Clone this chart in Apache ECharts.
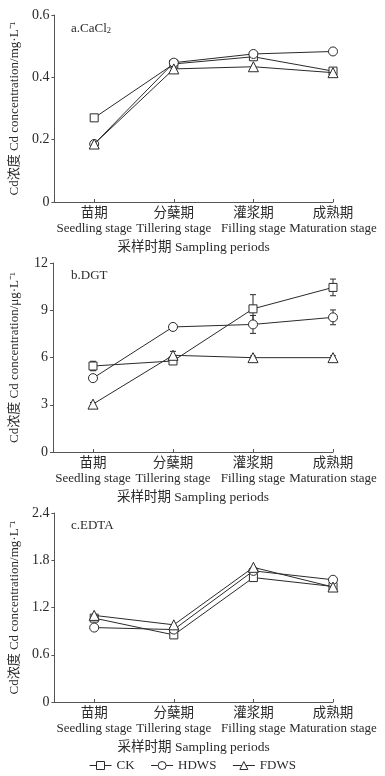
<!DOCTYPE html>
<html>
<head>
<meta charset="utf-8">
<script src="https://cdn.jsdelivr.net/npm/echarts@6/dist/echarts.min.js"></script>
<style>
html,body{margin:0;padding:0;background:#fff;}
#chart{width:385px;height:776px;}
</style>
</head>
<body>
<div id="chart"></div>
<script>
// ---- data ----
const categoriesZh = ['苗期', '分蘖期', '灌浆期', '成熟期'];
const categoriesEn = ['Seedling stage', 'Tillering stage', 'Filling stage', 'Maturation stage'];
const seriesNames = ['CK', 'HDWS', 'FDWS'];

// a. CaCl2 (mg/L)
const caclCK   = [0.270, 0.443, 0.466, 0.420];
const caclHDWS = [0.186, 0.447, 0.475, 0.483];
const caclFDWS = [0.186, 0.427, 0.434, 0.415];

// b. DGT (μg/L)
const dgtCK      = [5.46, 5.78, 9.09, 10.45];
const dgtCKErr   = [0.30, 0.15, 0.90, 0.53];
const dgtHDWS    = [4.69, 7.94, 8.10, 8.55];
const dgtHDWSErr = [0.15, 0.20, 0.57, 0.47];
const dgtFDWS    = [3.04, 6.14, 5.99, 5.99];
const dgtFDWSErr = [0.10, 0.25, 0.10, 0.12];

// c. EDTA (mg/L)
const edtaCK   = [1.065, 0.852, 1.580, 1.467];
const edtaHDWS = [0.945, 0.920, 1.665, 1.552];
const edtaFDWS = [1.100, 0.980, 1.710, 1.460];

// y-axis ticks
const yTicksA = {min: 0, max: 0.6, interval: 0.2};
const yTicksB = {min: 0, max: 12, interval: 3};
const yTicksC = {min: 0, max: 2.4, interval: 0.6};

// ---- chart ----
const SERIF = '"Liberation Serif", "Noto Sans CJK SC", serif';
const INK = '#2a2a2a';
const AXIS = '#555';
const symbols = ['rect', 'circle', 'triangle'];
const symbolSizes = [8, 9, 10];
const catPos = categoriesZh.map((_, i) => i + 1);

function toPairs(arr) { return arr.map((v, i) => [catPos[i], v]); }
function toErr(arr, err) { return arr.map((v, i) => [catPos[i], v, err[i]]); }

const grids = [
  {left: 53, top: 15, width: 280, height: 187},
  {left: 53, top: 263, width: 280, height: 189},
  {left: 53, top: 513, width: 280, height: 189}
];

function xAxisFor(gi) {
  return {
    type: 'value', gridIndex: gi, min: 0.5, max: 4,
    name: '采样时期 Sampling periods', nameLocation: 'middle', nameGap: 39,
    nameTextStyle: {fontFamily: SERIF, fontSize: 13.5, color: INK},
    axisLine: {lineStyle: {color: AXIS, width: 1}},
    axisTick: {inside: true, length: 3, customValues: catPos, lineStyle: {color: AXIS}},
    splitLine: {show: false},
    axisLabel: {
      customValues: catPos, margin: 4,
      formatter: function (v) {
        const i = Math.round(v) - 1;
        return '{zh|' + categoriesZh[i] + '}\n{en|' + categoriesEn[i] + '}';
      },
      rich: {
        zh: {fontFamily: SERIF, fontSize: 13.5, color: INK, lineHeight: 15},
        en: {fontFamily: SERIF, fontSize: 13, color: INK, lineHeight: 15}
      }
    }
  };
}
function yAxisFor(gi, t, unit) {
  return {
    type: 'value', gridIndex: gi, min: t.min, max: t.max, interval: t.interval,
    name: 'Cd浓度 Cd concentration/' + unit + '·L⁻¹', nameLocation: 'middle', nameGap: 32, nameRotate: 90,
    nameTextStyle: {fontFamily: SERIF, fontSize: 13, color: INK},
    axisLine: {show: true, lineStyle: {color: AXIS, width: 1}},
    axisTick: {show: true, length: 3, lineStyle: {color: AXIS}},
    splitLine: {show: false},
    axisLabel: {fontFamily: SERIF, fontSize: 14, color: INK, margin: 5}
  };
}

function lineSeries(gi, idx, data) {
  return {
    type: 'line', name: seriesNames[idx], xAxisIndex: gi, yAxisIndex: gi,
    data: toPairs(data), symbol: symbols[idx], symbolSize: symbolSizes[idx],
    showAllSymbol: true, z: 3 + idx,
    lineStyle: {color: INK, width: 1},
    itemStyle: {color: '#fff', borderColor: INK, borderWidth: 1},
    emphasis: {disabled: true}
  };
}
function errSeries(gi, data, err) {
  return {
    type: 'custom', xAxisIndex: gi, yAxisIndex: gi, z: 1,
    data: toErr(data, err),
    renderItem: function (params, api) {
      const x = api.value(0), y = api.value(1), e = api.value(2);
      const top = api.coord([x, y + e]);
      const bot = api.coord([x, y - e]);
      const w = 3;
      const st = {stroke: INK, lineWidth: 1};
      return {type: 'group', children: [
        {type: 'line', shape: {x1: top[0], y1: top[1], x2: bot[0], y2: bot[1]}, style: st},
        {type: 'line', shape: {x1: top[0] - w, y1: top[1], x2: top[0] + w, y2: top[1]}, style: st},
        {type: 'line', shape: {x1: bot[0] - w, y1: bot[1], x2: bot[0] + w, y2: bot[1]}, style: st}
      ]};
    }
  };
}

const titleRich = {
  t: {fontFamily: SERIF, fontSize: 13, fontWeight: 'normal', color: INK},
  s: {fontFamily: SERIF, fontSize: 8.5, fontWeight: 'normal', color: INK, padding: [6, 0, 0, 0]}
};

const option = {
  backgroundColor: '#fff',
  animation: false,
  title: [
    {text: '{t|a.CaCl}{s|2}', left: 66, top: 16, textStyle: {fontWeight: 'normal', rich: titleRich}},
    {text: '{t|b.DGT}', left: 66, top: 264, textStyle: {fontWeight: 'normal', rich: titleRich}},
    {text: '{t|c.EDTA}', left: 66, top: 514, textStyle: {fontWeight: 'normal', rich: titleRich}}
  ],
  legend: {
    data: seriesNames, bottom: -1, left: 'center', itemWidth: 22, itemHeight: 10, itemGap: 16,
    textStyle: {fontFamily: SERIF, fontSize: 13, color: INK},
    lineStyle: {width: 1},
    itemStyle: {borderWidth: 1},
    selectedMode: false
  },
  grid: grids,
  xAxis: [xAxisFor(0), xAxisFor(1), xAxisFor(2)],
  yAxis: [yAxisFor(0, yTicksA, 'mg'), yAxisFor(1, yTicksB, 'μg'), yAxisFor(2, yTicksC, 'mg')],
  series: [
    lineSeries(0, 0, caclCK), lineSeries(0, 1, caclHDWS), lineSeries(0, 2, caclFDWS),
    errSeries(1, dgtCK, dgtCKErr), errSeries(1, dgtHDWS, dgtHDWSErr), errSeries(1, dgtFDWS, dgtFDWSErr),
    lineSeries(1, 0, dgtCK), lineSeries(1, 1, dgtHDWS), lineSeries(1, 2, dgtFDWS),
    lineSeries(2, 0, edtaCK), lineSeries(2, 1, edtaHDWS), lineSeries(2, 2, edtaFDWS)
  ]
};

const chart = echarts.init(document.getElementById('chart'), null, {renderer: 'canvas'});
chart.setOption(option);
</script>
</body>
</html>
